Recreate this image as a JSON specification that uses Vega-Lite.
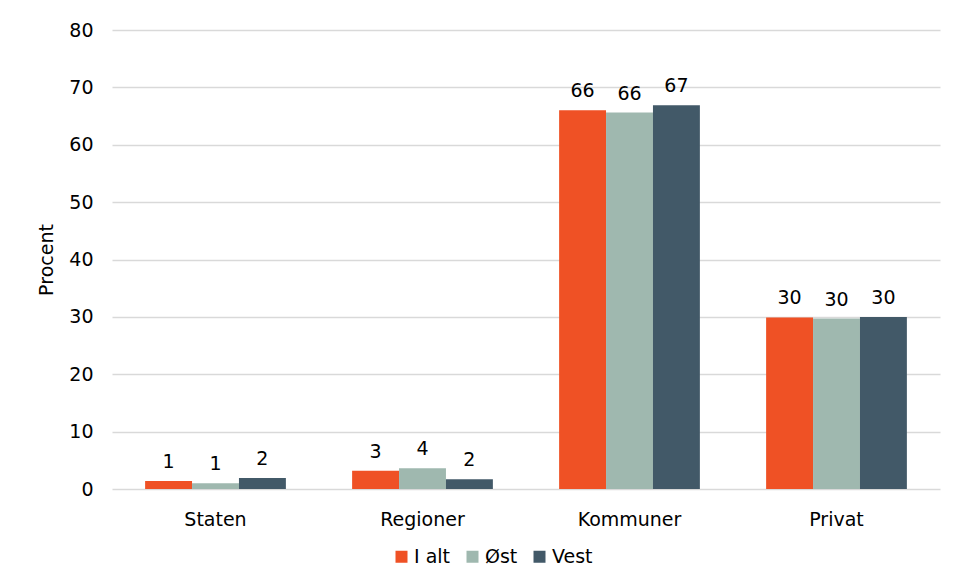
{
  "$schema": "https://vega.github.io/schema/vega-lite/v6.json",
  "width": 828,
  "height": 459,
  "autosize": "none",
  "padding": {"left": 112, "top": 30, "right": 18, "bottom": 97},
  "background": "white",
  "config": {
    "font": "DejaVu Sans",
    "view": {"stroke": null},
    "axis": {"labelFont": "DejaVu Sans", "titleFont": "DejaVu Sans", "labelColor": "#000000", "titleColor": "#000000"}
  },
  "data": {
    "values": [
      {"sektor": "Staten", "serie": "I alt", "pct": 1.4, "label": "1"},
      {"sektor": "Staten", "serie": "Øst", "pct": 1.0, "label": "1"},
      {"sektor": "Staten", "serie": "Vest", "pct": 1.9, "label": "2"},
      {"sektor": "Regioner", "serie": "I alt", "pct": 3.2, "label": "3"},
      {"sektor": "Regioner", "serie": "Øst", "pct": 3.6, "label": "4"},
      {"sektor": "Regioner", "serie": "Vest", "pct": 1.7, "label": "2"},
      {"sektor": "Kommuner", "serie": "I alt", "pct": 66.0, "label": "66"},
      {"sektor": "Kommuner", "serie": "Øst", "pct": 65.6, "label": "66"},
      {"sektor": "Kommuner", "serie": "Vest", "pct": 66.9, "label": "67"},
      {"sektor": "Privat", "serie": "I alt", "pct": 29.9, "label": "30"},
      {"sektor": "Privat", "serie": "Øst", "pct": 29.7, "label": "30"},
      {"sektor": "Privat", "serie": "Vest", "pct": 30.0, "label": "30"}
    ]
  },
  "encoding": {
    "x": {
      "field": "sektor", "type": "nominal",
      "sort": ["Staten", "Regioner", "Kommuner", "Privat"],
      "scale": {"paddingInner": 0.32, "paddingOuter": 0.16},
      "axis": {"title": null, "labelAngle": 0, "labelFontSize": 19, "labelPadding": 21, "ticks": false, "domain": false}
    },
    "xOffset": {"field": "serie", "type": "nominal", "sort": ["I alt", "Øst", "Vest"]},
    "y": {
      "field": "pct", "type": "quantitative",
      "scale": {"domain": [0, 80]},
      "axis": {"title": "Procent", "titleFontSize": 19, "titleFontWeight": "normal", "titlePadding": 12, "labelFontSize": 19, "labelPadding": 19, "values": [0,10,20,30,40,50,60,70,80], "ticks": false, "domain": false, "gridColor": "#d9d9d9", "gridWidth": 1.3}
    }
  },
  "layer": [
    {
      "mark": {"type": "bar"},
      "encoding": {
        "color": {
          "field": "serie", "type": "nominal",
          "sort": ["I alt", "Øst", "Vest"],
          "scale": {"domain": ["I alt", "Øst", "Vest"], "range": ["#EF5125", "#9FB8AF", "#425968"]},
          "legend": {"title": null, "orient": "none", "legendX": 280, "legendY": 517, "direction": "horizontal", "symbolType": "square", "symbolSize": 144, "symbolStrokeWidth": 0, "labelFontSize": 19, "labelColor": "#000000", "labelOffset": 3, "columnPadding": 12, "symbolOpacity": 1}
        }
      }
    },
    {
      "mark": {"type": "text", "fontSize": 19, "baseline": "alphabetic", "dy": -13, "color": "#000000"},
      "encoding": {"text": {"field": "label"}}
    }
  ]
}
